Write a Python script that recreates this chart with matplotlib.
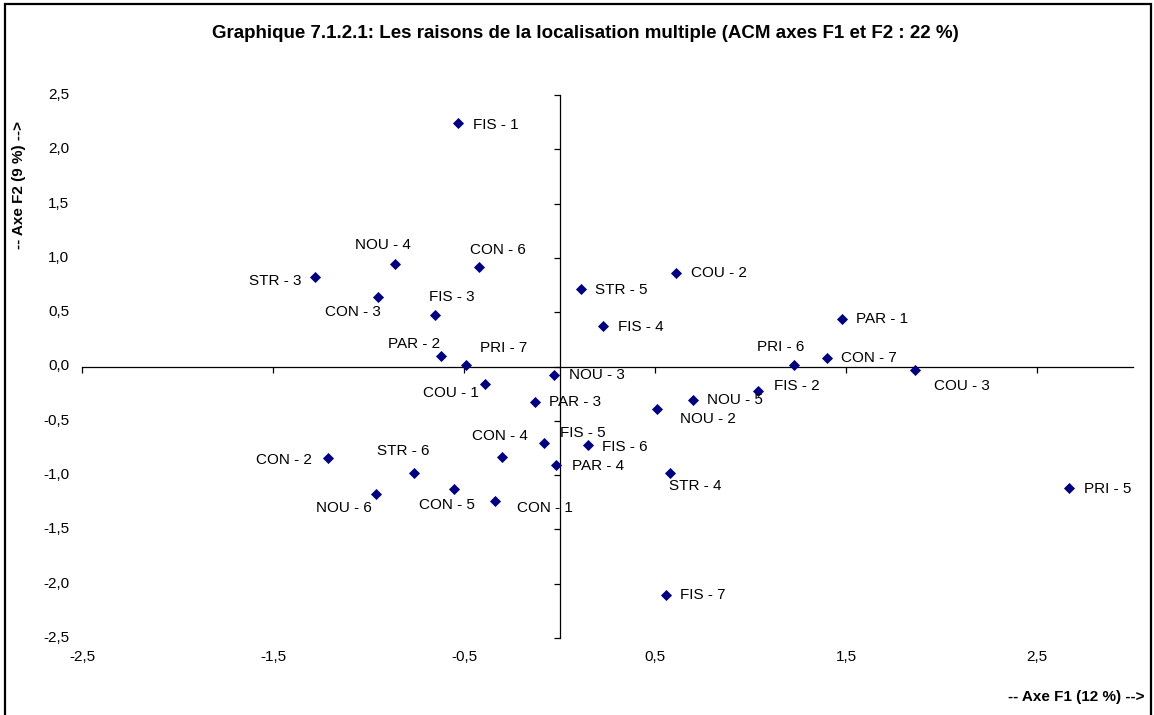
import matplotlib
matplotlib.use("Agg")
import matplotlib.pyplot as plt
from matplotlib.patches import Rectangle
from matplotlib.transforms import blended_transform_factory

# Modalités et coordonnées ACM (axes F1, F2)
modalites = [
    "FIS - 1", "FIS - 2", "FIS - 3", "FIS - 4", "FIS - 5", "FIS - 6", "FIS - 7",
    "CON - 1", "CON - 2", "CON - 3", "CON - 4", "CON - 5", "CON - 6", "CON - 7",
    "NOU - 2", "NOU - 3", "NOU - 4", "NOU - 5", "NOU - 6",
    "STR - 3", "STR - 4", "STR - 5", "STR - 6",
    "PAR - 1", "PAR - 2", "PAR - 3", "PAR - 4",
    "PRI - 5", "PRI - 6", "PRI - 7",
    "COU - 1", "COU - 2", "COU - 3",
]
axe_f1 = [
    -0.53, 1.04, -0.65, 0.23, -0.08, 0.15, 0.56,
    -0.34, -1.21, -0.95, -0.30, -0.55, -0.42, 1.40,
    0.51, -0.03, -0.86, 0.70, -0.96,
    -1.28, 0.58, 0.11, -0.76,
    1.48, -0.62, -0.13, -0.02,
    2.67, 1.23, -0.49,
    -0.39, 0.61, 1.86,
]
axe_f2 = [
    2.24, -0.23, 0.47, 0.37, -0.70, -0.72, -2.10,
    -1.24, -0.84, 0.64, -0.83, -1.13, 0.92, 0.08,
    -0.39, -0.08, 0.94, -0.31, -1.17,
    0.82, -0.98, 0.71, -0.98,
    0.44, 0.10, -0.33, -0.91,
    -1.12, 0.01, 0.01,
    -0.16, 0.86, -0.03,
]

x_ticks = [-2.5, -1.5, -0.5, 0.5, 1.5, 2.5]
y_ticks = [-2.5, -2.0, -1.5, -1.0, -0.5, 0.0, 0.5, 1.0, 1.5, 2.0, 2.5]

# décalage des étiquettes (pixels, placées à la main comme dans Excel)
decalages = {
    "FIS - 1": (15, -2), "FIS - 2": (16, 5), "FIS - 3": (-6, 18), "FIS - 4": (15, -1),
    "FIS - 5": (16, 10), "FIS - 6": (14, -2), "FIS - 7": (14, 0),
    "CON - 1": (22, -7), "CON - 2": (-72, -2), "CON - 3": (-53, -15), "CON - 4": (-30, 21),
    "CON - 5": (-35, -16), "CON - 6": (-9, 17), "CON - 7": (14, 0),
    "NOU - 2": (23, -10), "NOU - 3": (15, 0), "NOU - 4": (-40, 19), "NOU - 5": (14, 0),
    "NOU - 6": (-60, -14),
    "STR - 3": (-66, -4), "STR - 4": (-1, -13), "STR - 5": (14, -1), "STR - 6": (-37, 22),
    "PAR - 1": (14, 0), "PAR - 2": (-53, 12), "PAR - 3": (14, 0), "PAR - 4": (16, -1),
    "PRI - 5": (15, -1), "PRI - 6": (-37, 18), "PRI - 7": (14, 17),
    "COU - 1": (-62, -9), "COU - 2": (15, 0), "COU - 3": (19, -16),
}

plt.rcParams["font.family"] = ["Liberation Sans", "DejaVu Sans"]

W, H = 1154, 715
fig = plt.figure(figsize=(W / 100, H / 100), dpi=100)
fig.patch.set_facecolor("white")

# cadre du graphique
fig.patches.append(Rectangle((4.5 / W, -0.02), (1151 - 4.5) / W, 1.02 - 3.5 / H,
                             transform=fig.transFigure, fill=False,
                             edgecolor="black", linewidth=1.6))

ax = fig.add_axes([82 / W, 1 - 638 / H, (1132.5 - 82) / W, (638 - 95) / H])
ax.set_xlim(-2.5, 3.0)
ax.set_ylim(-2.5, 2.5)

ax.scatter(axe_f1, axe_f2, marker="D", s=32, color="#000080", zorder=3, linewidths=0)

for nom, x, y in zip(modalites, axe_f1, axe_f2):
    dx, dy = decalages[nom]
    ax.annotate(nom, (x, y), xytext=(dx, dy), textcoords="offset pixels",
                ha="left", va="center", fontsize=11, color="black")

# axes croisés à l'origine
for s in ["top", "right"]:
    ax.spines[s].set_visible(False)
ax.spines["left"].set_position(("data", 0))
ax.spines["bottom"].set_position(("data", 0))
for s in ["left", "bottom"]:
    ax.spines[s].set_linewidth(0.9)
ax.set_xticks(x_ticks)
ax.set_yticks(y_ticks)
ax.tick_params(direction="out", length=4, width=0.9, labelleft=False, labelbottom=False)

# étiquettes des graduations en position basse (style Excel)
ty = blended_transform_factory(ax.transAxes, ax.transData)
for v in y_ticks:
    ax.text(-0.012, v, f"{v:.1f}".replace(".", ","), transform=ty,
            ha="right", va="center", fontsize=11)
tx = blended_transform_factory(ax.transData, ax.transAxes)
for v in x_ticks:
    ax.text(v, -0.035, f"{v:.1f}".replace(".", ","), transform=tx,
            ha="center", va="center", fontsize=11)

fig.text(585 / W, 1 - 33 / H,
         "Graphique 7.1.2.1: Les raisons de la localisation multiple (ACM axes F1 et F2 : 22 %)",
         ha="center", va="center", fontsize=13.5, fontweight="bold")
fig.text(1145 / W, 1 - 697 / H, "-- Axe F1 (12 %) -->", ha="right", va="center",
         fontsize=11, fontweight="bold")
fig.text(19 / W, 1 - 185 / H, "-- Axe F2 (9 %) -->", ha="center", va="center",
         rotation=90, fontsize=11, fontweight="bold")

fig.savefig("out.png", dpi=100, facecolor="white")
